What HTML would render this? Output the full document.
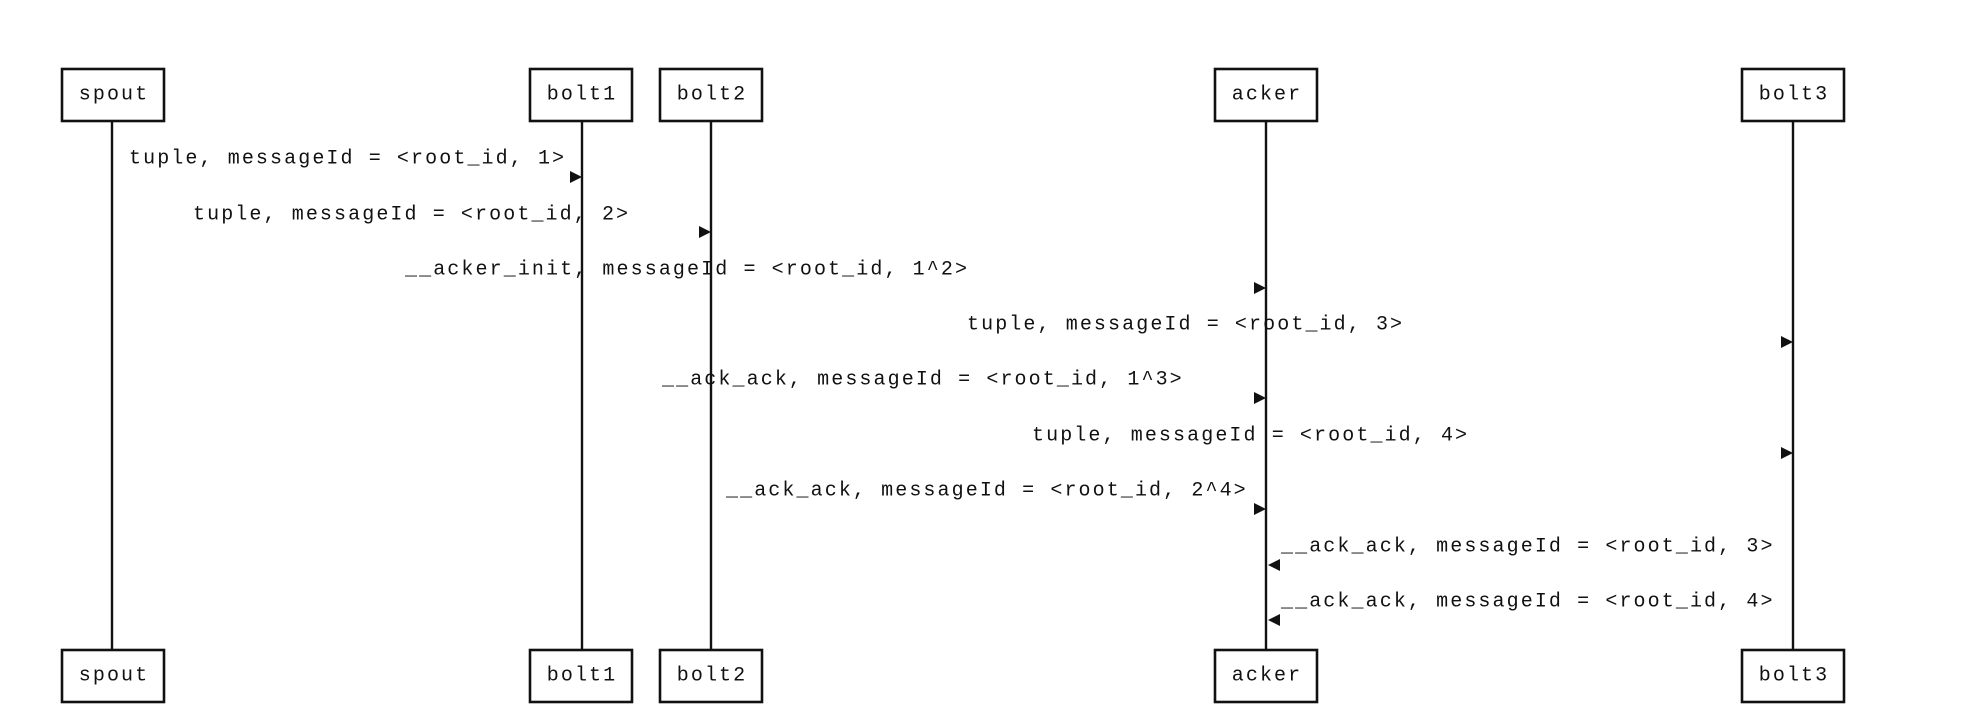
<!DOCTYPE html>
<html><head><meta charset="utf-8"><style>
html,body{margin:0;padding:0;background:#fff;}
body{width:1970px;height:722px;position:relative;overflow:hidden;}
</style></head><body>
<svg width="1970" height="722" xmlns="http://www.w3.org/2000/svg" style="position:absolute;left:0;top:0">
<g stroke="#111" stroke-width="2.4">
<line x1="112" y1="121" x2="112" y2="650"/>
<line x1="582" y1="121" x2="582" y2="650"/>
<line x1="711" y1="121" x2="711" y2="650"/>
<line x1="1266" y1="121" x2="1266" y2="650"/>
<line x1="1793" y1="121" x2="1793" y2="650"/>
</g>
<g fill="#fff" stroke="#111" stroke-width="2.6">
<rect x="62" y="69" width="102" height="52"/><rect x="530" y="69" width="102" height="52"/><rect x="660" y="69" width="102" height="52"/><rect x="1215" y="69" width="102" height="52"/><rect x="1742" y="69" width="102" height="52"/>
<rect x="62" y="650" width="102" height="52"/><rect x="530" y="650" width="102" height="52"/><rect x="660" y="650" width="102" height="52"/><rect x="1215" y="650" width="102" height="52"/><rect x="1742" y="650" width="102" height="52"/>
</g>
<g font-family="Liberation Mono, DejaVu Sans Mono, monospace" font-size="20" letter-spacing="2.1" fill="#111" text-anchor="middle" dominant-baseline="central">
<text x="114" y="95">spout</text><text x="582" y="95">bolt1</text><text x="712" y="95">bolt2</text><text x="1267" y="95">acker</text><text x="1794" y="95">bolt3</text>
<text x="114" y="676">spout</text><text x="582" y="676">bolt1</text><text x="712" y="676">bolt2</text><text x="1267" y="676">acker</text><text x="1794" y="676">bolt3</text>
</g>
<g font-family="Liberation Mono, DejaVu Sans Mono, monospace" font-size="20" letter-spacing="2.1" fill="#111" dominant-baseline="central">
<text x="129" y="159">tuple, messageId = &lt;root_id, 1&gt;</text>
<text x="193" y="215">tuple, messageId = &lt;root_id, 2&gt;</text>
<text x="405" y="270">__acker_init, messageId = &lt;root_id, 1^2&gt;</text>
<text x="967" y="325">tuple, messageId = &lt;root_id, 3&gt;</text>
<text x="662" y="380">__ack_ack, messageId = &lt;root_id, 1^3&gt;</text>
<text x="1032" y="436">tuple, messageId = &lt;root_id, 4&gt;</text>
<text x="726" y="491">__ack_ack, messageId = &lt;root_id, 2^4&gt;</text>
<text x="1281" y="547">__ack_ack, messageId = &lt;root_id, 3&gt;</text>
<text x="1281" y="602">__ack_ack, messageId = &lt;root_id, 4&gt;</text>
</g>
<g fill="#111">
<polygon points="570,171 582,177 570,183"/>
<polygon points="699,226 711,232 699,238"/>
<polygon points="1254,282 1266,288 1254,294"/>
<polygon points="1781,336 1793,342 1781,348"/>
<polygon points="1254,392 1266,398 1254,404"/>
<polygon points="1781,447 1793,453 1781,459"/>
<polygon points="1254,503 1266,509 1254,515"/>
<polygon points="1280,559 1268,565 1280,571"/>
<polygon points="1280,614 1268,620 1280,626"/>
</g>
</svg>
</body></html>
